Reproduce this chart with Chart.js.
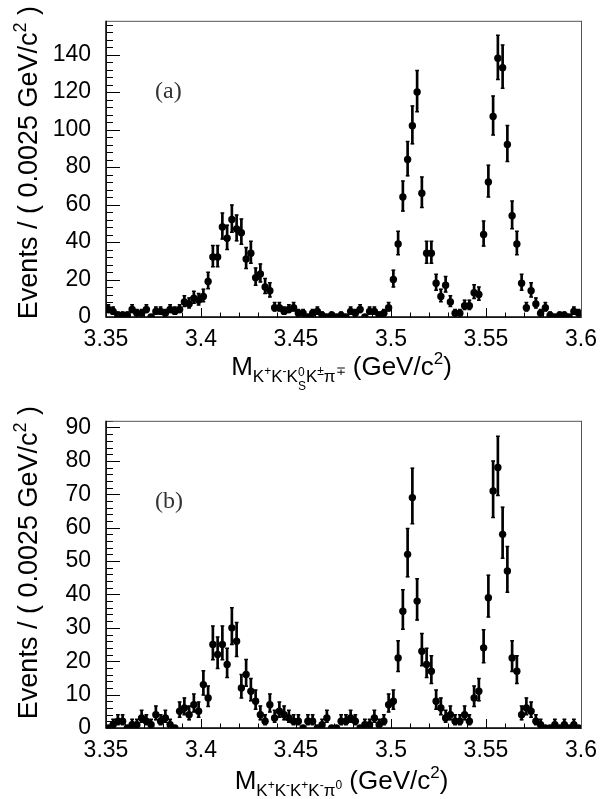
<!DOCTYPE html>
<html>
<head>
<meta charset="utf-8">
<script src="https://cdn.jsdelivr.net/npm/chart.js@4.4.0/dist/chart.umd.min.js"></script>
<style>
  html, body { margin: 0; padding: 0; background: #fff; }
  #wrap { position: relative; width: 608px; height: 799px; }
  canvas { position: absolute; left: 0; }
</style>
</head>
<body>
<div id="wrap">
  <canvas id="chart-a" width="608" height="400" style="top:0px"></canvas>
  <canvas id="chart-b" width="608" height="399" style="top:400px"></canvas>
</div>
<script>
// histogram binning: 100 bins of 0.0025 GeV between 3.35 and 3.6
const massLow = 3.35;
const massHigh = 3.6;
const binWidth = 0.0025;

// events per bin, panel (a): K+K-KsK pi
const countsA = [
  4, 3, 1, 1, 1, 4, 2, 2, 4, 0,
  3, 3, 2, 4, 3, 4, 8, 7, 10, 9,
  11, 19, 32, 32, 48, 42, 52, 47, 45, 31,
  34, 21, 23, 16, 14, 5, 5, 3, 4, 5,
  2, 2, 0, 2, 3, 1, 0, 1, 0, 1,
  0, 3, 2, 4, 0, 3, 3, 1, 2, 5,
  20, 39, 64, 84, 102, 120, 66, 34, 34, 18,
  11, 17, 8, 2, 2, 6, 6, 13, 12, 44,
  72, 107, 138, 133, 92, 54, 39, 18, 5, 14,
  7, 2, 5, 1, 0, 1, 1, 0, 3, 2
];

// events per bin, panel (b): K+K-K+K-pi0
const countsB = [
  0, 1, 2, 2, 0, 1, 1, 3, 2, 1,
  4, 2, 3, 1, 0, 5, 6, 4, 7, 5,
  13, 9, 25, 22, 25, 19, 30, 26, 12, 16,
  11, 8, 4, 2, 7, 3, 5, 4, 3, 2,
  2, 0, 2, 2, 0, 1, 3, 0, 0, 2,
  2, 3, 2, 0, 1, 1, 3, 1, 2, 7,
  8, 21, 35, 52, 69, 38, 23, 19, 17, 8,
  6, 3, 4, 2, 2, 4, 2, 9, 11, 24,
  39, 71, 78, 58, 47, 21, 17, 4, 6, 5,
  2, 1, 0, 0, 1, 0, 1, 0, 1, 0
];

const xTickValues = [3.35, 3.4, 3.45, 3.5, 3.55, 3.6];
const xTickLabels = ['3.35', '3.4', '3.45', '3.5', '3.55', '3.6'];
const yTickLabelsA = ['0', '20', '40', '60', '80', '100', '120', '140'];
const yTickLabelsB = ['0', '10', '20', '30', '40', '50', '60', '70', '80', '90'];

const SANS = '"Liberation Sans", Arial, sans-serif';
const SERIF = '"Liberation Serif", "Times New Roman", serif';

// approximate 68% Poisson interval (as RooFit draws it)
function poissonBand(n) {
  const s = Math.sqrt(n + 0.25);
  return [Math.max(0, n + 0.5 - s), n + 0.5 + s];
}

// draw a run of text pieces: [text, size, dy, noAdvance]
function drawRich(ctx, parts, cx, y, center) {
  let total = 0;
  parts.forEach(p => {
    ctx.font = p[1] + 'px ' + SANS;
    p.w = ctx.measureText(p[0]).width;
    if (!p[3]) total += p.w;
  });
  let x = center ? cx - total / 2 : cx;
  parts.forEach(p => {
    ctx.font = p[1] + 'px ' + SANS;
    ctx.fillText(p[0], x, y + p[2]);
    if (!p[3]) x += p.w;
  });
  return total;
}

const framePlugin = {
  id: 'frame',
  beforeDatasetsDraw(chart, args, opts) {
    const {ctx, chartArea: a, scales: {x, y}} = chart;
    ctx.save();
    // inward tick marks
    ctx.strokeStyle = '#000';
    ctx.lineWidth = 1;
    ctx.beginPath();
    const nx = Math.round((massHigh - massLow) / 0.01);
    for (let k = 0; k <= nx; k++) {
      const px = Math.round(x.getPixelForValue(massLow + k * 0.01)) + 0.5;
      const len = k % 5 === 0 ? 9 : 4.5;
      ctx.moveTo(px, a.bottom);
      ctx.lineTo(px, a.bottom - len);
    }
    const ny = Math.floor(y.max / opts.minor);
    for (let k = 0; k <= ny; k++) {
      const py = Math.round(y.getPixelForValue(k * opts.minor)) + 0.5;
      const len = (k * opts.minor) % opts.major === 0 ? 14 : 7;
      ctx.moveTo(a.left, py);
      ctx.lineTo(a.left + len, py);
    }
    ctx.stroke();
    // frame
    ctx.strokeStyle = '#555';
    ctx.lineWidth = 1;
    ctx.strokeRect(a.left + 0.5, a.top + 0.5, a.right - a.left, a.bottom - a.top);
    ctx.strokeStyle = '#000';
    ctx.lineWidth = 1.5;
    ctx.beginPath();
    ctx.moveTo(a.left, a.top);
    ctx.lineTo(a.left, a.bottom);
    ctx.lineTo(a.right, a.bottom);
    ctx.stroke();
    ctx.restore();
  },
  afterDraw(chart, args, opts) {
    const {ctx, chartArea: a} = chart;
    ctx.save();
    ctx.fillStyle = '#000';
    ctx.textBaseline = 'alphabetic';
    // x axis title
    drawRich(ctx, opts.xTitle, (a.left + a.right) / 2 - 2, opts.xTitleY, true);
    // y axis title, rotated, ending at the top
    ctx.translate(37, 6);
    ctx.rotate(-Math.PI / 2);
    const yParts = [['Events / ( 0.0025 GeV/c', 27, 0], ['2', 18, -11], [' )', 27, 0]];
    let tw = 0;
    yParts.forEach(p => { ctx.font = p[1] + 'px ' + SANS; tw += ctx.measureText(p[0]).width; });
    drawRich(ctx, yParts, -tw, 0, false);
    ctx.restore();
    // panel tag
    ctx.save();
    ctx.fillStyle = '#333';
    ctx.font = '24px ' + SERIF;
    ctx.fillText(opts.tag, 155, opts.tagY);
    ctx.restore();
  }
};

function makePanel(canvasId, counts, cfg) {
  const centers = counts.map((c, i) => massLow + binWidth * (i + 0.5));
  const points = counts.map((c, i) => ({x: centers[i], y: c}));
  const bars = [];
  const caps = [];
  counts.forEach((c, i) => {
    if (c === 0) return;
    const [lo, hi] = poissonBand(c);
    bars.push({x: centers[i], y: [lo, hi]});
    caps.push({x: centers[i], y: lo}, {x: centers[i], y: hi});
  });
  const canvas = document.getElementById(canvasId);
  return new Chart(canvas.getContext('2d'), {
    type: 'scatter',
    data: {
      datasets: [
        {
          type: 'scatter', data: points, order: 0,
          pointRadius: 3.7, pointBackgroundColor: '#000', pointBorderWidth: 0
        },
        {
          type: 'scatter', data: caps, order: 1,
          pointStyle: 'line', pointRadius: 1.9, pointBorderColor: '#000', pointBorderWidth: 1.5
        },
        {
          type: 'bar', data: bars, order: 2,
          backgroundColor: '#000', barThickness: 2, borderWidth: 0
        }
      ]
    },
    options: {
      responsive: false,
      animation: false,
      events: [],
      layout: {padding: {top: cfg.top, right: 27, left: 0, bottom: 0}},
      plugins: {
        legend: {display: false},
        tooltip: {enabled: false},
        frame: cfg.frame
      },
      scales: {
        x: {
          type: 'linear', min: massLow, max: massHigh, offset: false,
          grid: {display: false}, border: {display: false},
          afterBuildTicks: s => { s.ticks = xTickValues.map(v => ({value: v})); },
          ticks: {
            autoSkip: false, maxRotation: 0, padding: 1, color: '#000',
            font: {family: SANS, size: 23},
            callback: (v) => xTickLabels[xTickValues.findIndex(t => Math.abs(t - v) < 1e-6)]
          },
          afterFit: s => { s.height = canvas.height - cfg.bottom; }
        },
        y: {
          type: 'linear', min: 0, max: cfg.ymax,
          grid: {display: false}, border: {display: false},
          afterBuildTicks: s => { s.ticks = cfg.yLabels.map(t => ({value: Number(t)})); },
          ticks: {
            autoSkip: false, padding: 7, color: '#000',
            font: {family: SANS, size: 23},
            callback: (v) => String(v)
          },
          afterFit: s => { s.width = 106; }
        }
      }
    },
    plugins: [framePlugin]
  });
}

makePanel('chart-a', countsA, {
  top: 7, bottom: 317, ymax: 158, yLabels: yTickLabelsA,
  frame: {
    major: 20, minor: 4, tag: '(a)', tagY: 98, xTitleY: 375,
    xTitle: [
      ['M', 26, 0],
      ['K', 17, 7], ['+', 12, 0],
      ['K', 17, 7], ['-', 12, 0],
      ['K', 17, 7], ['0', 12, 1, true], ['S', 12, 15],
      ['K', 17, 7], ['\u00b1', 12, 0],
      ['\u03c0', 17, 7], ['\u2213', 12, 0],
      [' (GeV/c', 26, 0], ['2', 17, -11], [')', 26, 0]
    ]
  }
});

makePanel('chart-b', countsB, {
  top: 19, bottom: 328, ymax: 92, yLabels: yTickLabelsB,
  frame: {
    major: 10, minor: 2, tag: '(b)', tagY: 108, xTitleY: 389,
    xTitle: [
      ['M', 26, 0],
      ['K', 17, 7], ['+', 12, 0],
      ['K', 17, 7], ['-', 12, 0],
      ['K', 17, 7], ['+', 12, 0],
      ['K', 17, 7], ['-', 12, 0],
      ['\u03c0', 17, 7], ['0', 12, 0],
      [' (GeV/c', 26, 0], ['2', 17, -11], [')', 26, 0]
    ]
  }
});
</script>
</body>
</html>
